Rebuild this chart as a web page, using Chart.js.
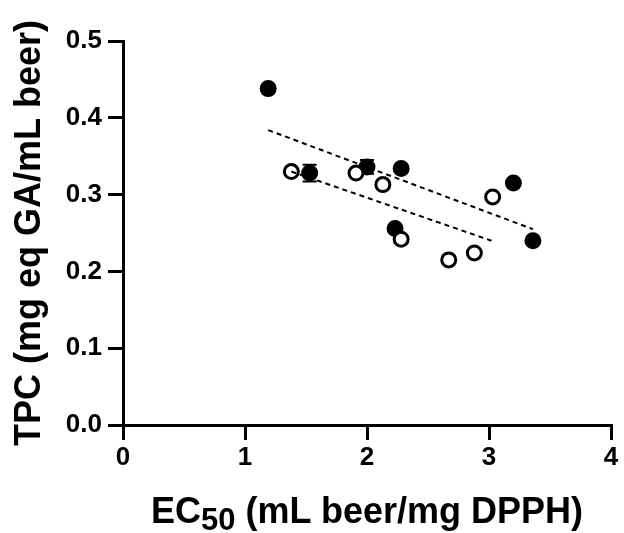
<!DOCTYPE html>
<html>
<head>
<meta charset="utf-8">
<script src="https://cdn.jsdelivr.net/npm/chart.js@4.4.1/dist/chart.umd.min.js"></script>
<style>
    body { margin: 0; background: #fff; }
    #wrap { position: relative; width: 624px; height: 533px; }
    #xTitle {
        position: absolute; left: 123px; width: 488px; top: 493px;
        text-align: center; color: #000; white-space: nowrap;
        font: bold 36px "Liberation Sans", Arial, sans-serif; line-height: 36px;
    }
    #xTitle sub { font-size: 31px; vertical-align: -7px; line-height: 0; }
</style>
</head>
<body>
<div id="wrap">
    <canvas id="myChart" width="624" height="533"></canvas>
    <div id="xTitle">EC<sub>50</sub> (mL beer/mg DPPH)</div>
</div>
<script>
// Data titik
const filledX = [1.19, 1.53, 2.00, 2.28, 2.23, 3.20, 3.36];
const filledY = [0.438, 0.328, 0.336, 0.334, 0.256, 0.315, 0.240];
const filledErr = [0, 0.011, 0.009, 0, 0, 0, 0];

const openX = [1.38, 1.91, 2.13, 2.28, 2.67, 2.88, 3.03];
const openY = [0.330, 0.328, 0.313, 0.242, 0.215, 0.224, 0.297];

// Garis regresi (titik awal dan akhir)
const fitFilledX = [1.19, 3.36];
const fitFilledY = [0.384, 0.255];
const fitOpenX = [1.38, 3.02];
const fitOpenY = [0.330, 0.240];

const xTicks = [0, 1, 2, 3, 4];
const yTicks = [0, 0.1, 0.2, 0.3, 0.4, 0.5];

const fontFamily = '"Liberation Sans", Arial, sans-serif';

function toPoints(xs, ys) {
    return xs.map((x, i) => ({ x: x, y: ys[i] }));
}

// Plugin untuk menggambar error bar sebelum titik hitam
const errorBarPlugin = {
    id: 'errorBars',
    beforeDatasetDraw(chart, args) {
        if (args.index !== 0) return;
        const ctx = chart.ctx;
        const xs = chart.scales.x;
        const ys = chart.scales.y;
        ctx.save();
        ctx.strokeStyle = '#000';
        ctx.lineWidth = 2;
        filledX.forEach((x, i) => {
            const err = filledErr[i];
            if (!err) return;
            const px = xs.getPixelForValue(x);
            const top = ys.getPixelForValue(filledY[i] + err);
            const bot = ys.getPixelForValue(filledY[i] - err);
            ctx.beginPath();
            ctx.moveTo(px, top); ctx.lineTo(px, bot);
            ctx.moveTo(px - 7, top); ctx.lineTo(px + 7, top);
            ctx.moveTo(px - 7, bot); ctx.lineTo(px + 7, bot);
            ctx.stroke();
        });
        ctx.restore();
    }
};

function displayChart() {
    const ctx = document.getElementById('myChart').getContext('2d');

    new Chart(ctx, {
        type: 'scatter',
        data: {
            datasets: [
                {
                    label: 'filled',
                    data: toPoints(filledX, filledY),
                    pointRadius: 7,
                    pointBorderWidth: 3,
                    pointBackgroundColor: '#000',
                    pointBorderColor: '#000',
                    order: 2
                },
                {
                    label: 'open',
                    data: toPoints(openX, openY),
                    pointRadius: 7,
                    pointBorderWidth: 3,
                    pointBackgroundColor: '#fff',
                    pointBorderColor: '#000',
                    order: 1
                },
                {
                    label: 'fit filled',
                    data: toPoints(fitFilledX, fitFilledY),
                    showLine: true,
                    pointRadius: 0,
                    borderColor: '#000',
                    borderWidth: 2,
                    borderDash: [5, 4],
                    order: 0
                },
                {
                    label: 'fit open',
                    data: toPoints(fitOpenX, fitOpenY),
                    showLine: true,
                    pointRadius: 0,
                    borderColor: '#000',
                    borderWidth: 2,
                    borderDash: [5, 4],
                    order: 0
                }
            ]
        },
        options: {
            responsive: false,
            animation: false,
            devicePixelRatio: 1,
            layout: { padding: { left: 0, top: 41, right: 13, bottom: 0 } },
            plugins: {
                legend: { display: false },
                tooltip: { enabled: false }
            },
            scales: {
                x: {
                    type: 'linear',
                    min: 0,
                    max: 4,
                    afterBuildTicks: (scale) => { scale.ticks = xTicks.map(v => ({ value: v })); },
                    afterFit: (scale) => { scale.height = 108; },
                    grid: { drawOnChartArea: false, color: '#000', lineWidth: 3, tickLength: 15 },
                    border: { color: '#000', width: 3 },
                    ticks: {
                        color: '#000',
                        padding: 2,
                        font: { family: fontFamily, size: 26, weight: 'bold' },
                        callback: (v) => String(v)
                    }
                },
                y: {
                    type: 'linear',
                    min: 0,
                    max: 0.5,
                    afterBuildTicks: (scale) => { scale.ticks = yTicks.map(v => ({ value: v })); },
                    afterFit: (scale) => { scale.width = 123; },
                    grid: { drawOnChartArea: false, color: '#000', lineWidth: 3, tickLength: 15 },
                    border: { color: '#000', width: 3 },
                    ticks: {
                        color: '#000',
                        padding: 6,
                        font: { family: fontFamily, size: 26, weight: 'bold' },
                        callback: (v) => Number(v).toFixed(1)
                    },
                    title: {
                        display: true,
                        text: 'TPC (mg eq GA/mL beer)',
                        color: '#000',
                        padding: { top: 12, bottom: 0 },
                        font: { family: fontFamily, size: 36, weight: 'bold', lineHeight: 1 }
                    }
                }
            }
        },
        plugins: [errorBarPlugin]
    });
}

document.addEventListener('DOMContentLoaded', displayChart);
</script>
</body>
</html>
